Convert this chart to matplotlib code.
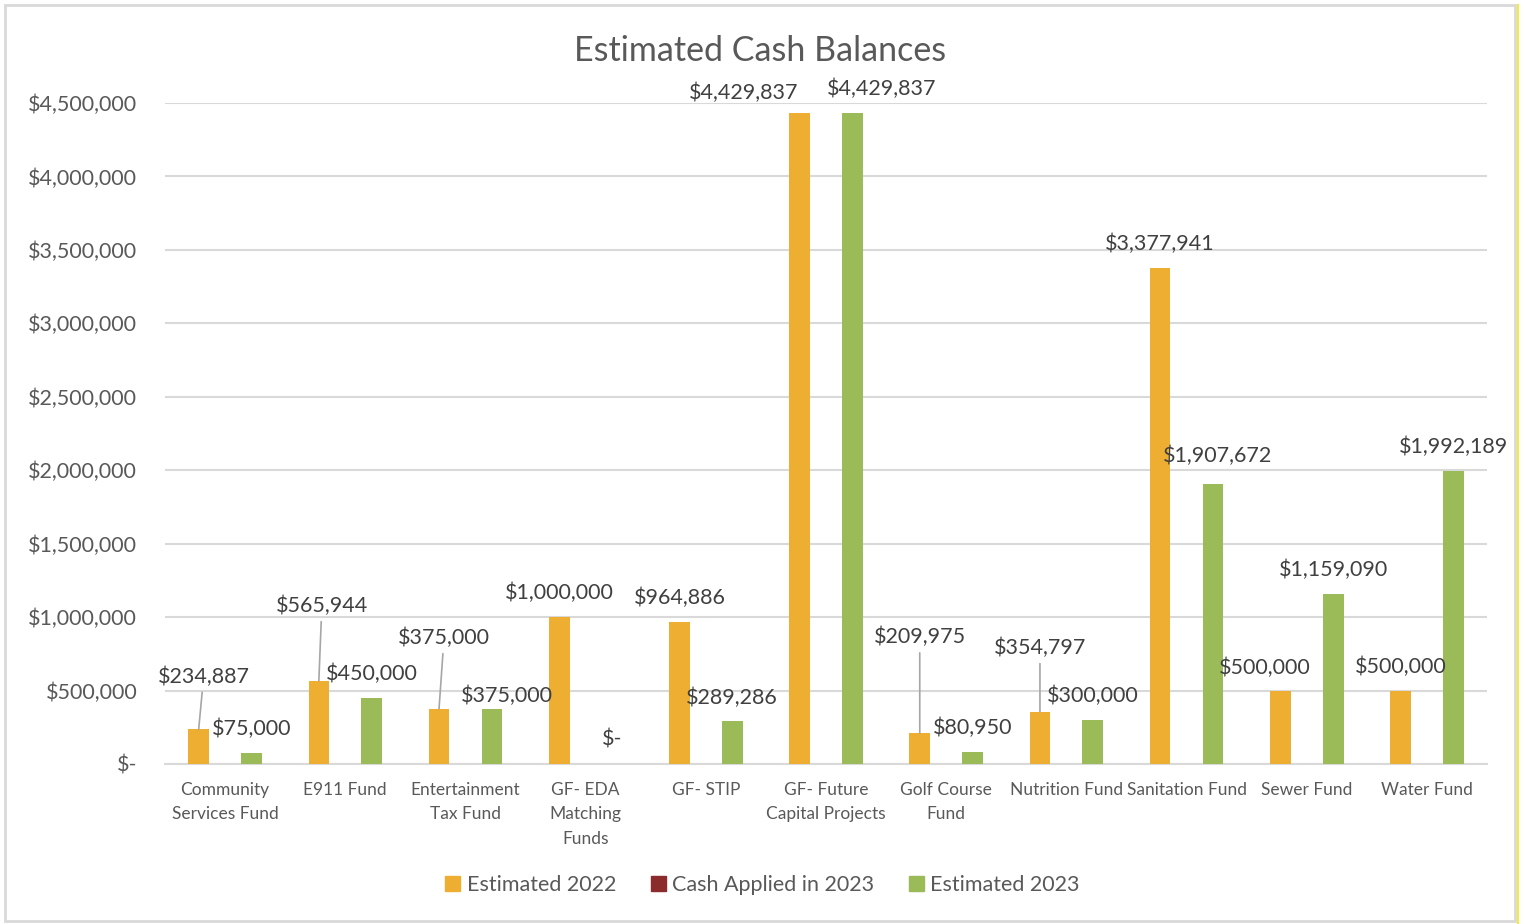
import matplotlib
matplotlib.use("Agg")
import matplotlib.pyplot as plt
from matplotlib.patches import Rectangle
from matplotlib.lines import Line2D
import numpy as np

plt.rcParams['font.family'] = ['Lato', 'DejaVu Sans']

categories = [
    "Community\nServices Fund", "E911 Fund", "Entertainment\nTax Fund",
    "GF- EDA\nMatching\nFunds", "GF- STIP", "GF- Future\nCapital Projects",
    "Golf Course\nFund", "Nutrition Fund", "Sanitation Fund", "Sewer Fund",
    "Water Fund",
]
estimated_2022 = [234887, 565944, 375000, 1000000, 964886, 4429837,
                  209975, 354797, 3377941, 500000, 500000]
cash_applied_2023 = [0, 0, 0, 0, 0, 0, 0, 0, 0, 0, 0]
estimated_2023 = [75000, 450000, 375000, 0, 289286, 4429837,
                  80950, 300000, 1907672, 1159090, 1992189]
series_names = ["Estimated 2022", "Cash Applied in 2023", "Estimated 2023"]
y_ticks = [0, 500000, 1000000, 1500000, 2000000, 2500000, 3000000,
           3500000, 4000000, 4500000]

COL_2022 = "#EDAE32"
COL_CASH = "#8B2B2B"
COL_2023 = "#9BBB59"
TXT = "#595959"
LBL = "#404040"
GRID = "#D9D9D9"


def money(v):
    return "$-" if v == 0 else "${:,.0f}".format(v)


fig = plt.figure(figsize=(15.25, 9.24), dpi=100)
ax = fig.add_axes([0.1082, 0.1732, 0.9751 - 0.1082, 0.8885 - 0.1732])

x = np.arange(len(categories))
w = 0.172
off = 0.22
ax.bar(x - off, estimated_2022, w, color=COL_2022, zorder=3)
ax.bar(x, cash_applied_2023, w, color=COL_CASH, zorder=3)
ax.bar(x + off, estimated_2023, w, color=COL_2023, zorder=3)

ax.set_xlim(-0.5, len(categories) - 0.5)
ax.set_ylim(0, 4500000)
ax.set_yticks(y_ticks)
ax.set_yticklabels([money(t) for t in y_ticks])
ax.set_xticks(x)
ax.set_xticklabels(categories, linespacing=1.65)
ax.tick_params(axis='both', length=0, colors=TXT)
ax.tick_params(axis='y', labelsize=15.5, pad=20)
ax.tick_params(axis='x', labelsize=12.5, pad=13)
ax.grid(axis='y', color=GRID, linewidth=1.5, zorder=0)
for s in ["top", "right", "left"]:
    ax.spines[s].set_visible(False)
ax.spines["bottom"].set_color(GRID)
ax.spines["bottom"].set_linewidth(1.5)
ax.spines["bottom"].set_zorder(2)

# label placement (pixels from bar top centre) and whether a leader line is drawn
place_2022 = {0: (5, 53, True), 1: (3, 75, True), 2: (5, 71, True),
              5: (-56, 20, False), 6: (0, 96, True), 7: (0, 64, True),
              9: (-16, 23, False)}
place_2023 = {2: (15, 13, False), 5: (29, 24, False), 8: (5, 28, False)}


def label_series(xpos, vals, place):
    for i, v in enumerate(vals):
        dx, dy, lead = place.get(i, (0, 24, False))
        kw = {}
        if lead:
            kw["arrowprops"] = dict(arrowstyle='-', color="#A6A6A6", lw=1.2,
                                    shrinkA=2, shrinkB=0)
        ax.annotate(money(v), xy=(xpos[i], v), xytext=(dx, dy),
                    textcoords='offset pixels', ha='center', va='center',
                    fontsize=15.5, color=LBL, zorder=5, **kw)


label_series(x - off, estimated_2022, place_2022)
label_series(x + off, estimated_2023, place_2023)

fig.text(0.4985, 0.945, "Estimated Cash Balances", ha='center', va='center',
         fontsize=24.5, color=TXT)

handles = [Rectangle((0, 0), 1, 1, color=c) for c in (COL_2022, COL_CASH, COL_2023)]
fig.legend(handles, series_names, loc='center', bbox_to_anchor=(0.5, 0.042),
           ncol=3, frameon=False, fontsize=15.5, labelcolor=TXT,
           handlelength=0.7, handleheight=0.7, handletextpad=0.3,
           columnspacing=1.6)

# chart frame
fig.add_artist(Rectangle((5 / 1525, 3 / 924), 1510 / 1525, 916 / 924,
                         transform=fig.transFigure, fill=False,
                         edgecolor="#D9D9D9", linewidth=2))
fig.add_artist(Line2D([1517.5 / 1525, 1517.5 / 1525], [0, 1 - 5 / 924],
                      transform=fig.transFigure, color="#F2EC3A", linewidth=1.5))

fig.savefig("out.png", dpi=100, facecolor="white")
